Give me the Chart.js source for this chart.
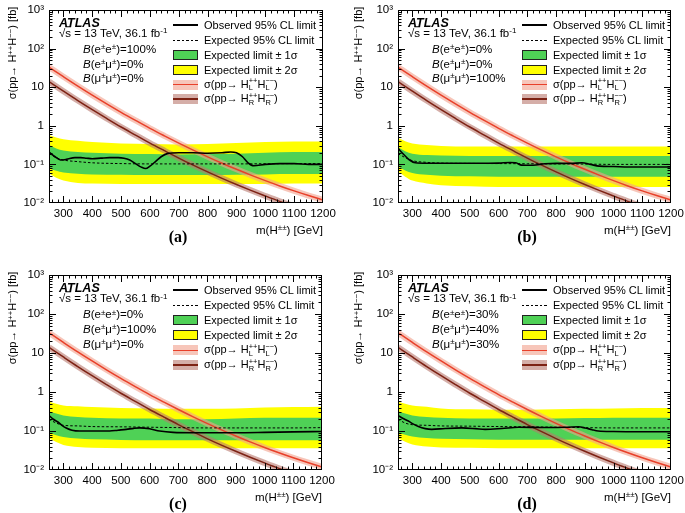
<!DOCTYPE html>
<html><head><meta charset="utf-8">
<script src="https://cdn.jsdelivr.net/npm/chart.js@4.4.0/dist/chart.umd.min.js"></script>
<style>
html,body{margin:0;padding:0;background:#fff;overflow:hidden;width:685px;height:513px;}
body{position:relative;font-family:"Liberation Sans",Arial,Helvetica,sans-serif;color:#000;}
canvas{position:absolute;}
.t{position:absolute;white-space:nowrap;line-height:1;transform:translateY(-50%);z-index:5;}
.sw{position:absolute;z-index:5;box-sizing:border-box;}
.sup{font-size:70%;position:relative;top:-0.45em;}
.ss{display:inline-block;vertical-align:middle;font-size:68%;line-height:0.95;position:relative;top:-0.05em;}
.ss span{display:block;}
.ol{text-decoration:overline;}
</style></head><body>
<script>
// ---------------- data ----------------
const xTicks = [300,400,500,600,700,800,900,1000,1100,1200];
const yTicks = [0.01,0.1,1,10,100,1000];
const yTickLabels = ['10\u207B\u00B2','10\u207B\u00B9','1','10','10\u00B2','10\u00B3'];

// theory cross sections
const xsMass = [250,300,350,400,450,500,550,600,650,700,750,800,850,900,950,1000,1050,1100,1150,1200];
const xsL = [33,18.7,10.7,6.25,3.71,2.24,1.38,0.86,0.55,0.356,0.234,0.157,0.107,0.0746,0.0527,0.0379,0.0277,0.0206,0.0156,0.012];
const xsR = [14,7.9,4.5,2.62,1.55,0.93,0.575,0.356,0.227,0.146,0.096,0.064,0.0435,0.0302,0.0213,0.0152,0.011,0.0082,0.0062,0.0047];

// expected-limit grid
const bandMass = [250,275,300,350,400,500,600,700,800,900,1000,1100,1200];

// panel (a)
const obsMassA = [250,270,290,310,340,360,380,400,430,460,490,510,530,550,570,585,600,620,640,660,700,750,800,850,880,900,920,940,960,1000,1050,1100,1150,1200];
const obsA = [0.21,0.16,0.13,0.135,0.15,0.15,0.145,0.14,0.145,0.15,0.15,0.145,0.13,0.105,0.085,0.078,0.09,0.12,0.16,0.19,0.2,0.2,0.195,0.2,0.21,0.2,0.16,0.11,0.092,0.1,0.105,0.105,0.1,0.1];
const expA = [0.19,0.15,0.13,0.118,0.11,0.105,0.103,0.103,0.103,0.103,0.104,0.105,0.105];
const yUpA = [0.58,0.5,0.45,0.41,0.38,0.35,0.34,0.33,0.34,0.36,0.38,0.39,0.39];
const gUpA = [0.32,0.26,0.23,0.21,0.2,0.19,0.185,0.18,0.185,0.19,0.2,0.21,0.21];
const gLoA = [0.08,0.068,0.062,0.057,0.055,0.054,0.053,0.053,0.053,0.054,0.055,0.056,0.056];
const yLoA = [0.058,0.045,0.038,0.033,0.032,0.031,0.031,0.031,0.031,0.031,0.031,0.032,0.032];

// panel (b)
const obsMassB = [250,270,290,310,350,400,450,500,550,600,640,660,680,720,760,800,850,890,920,950,1000,1050,1100,1200];
const obsB = [0.26,0.18,0.13,0.11,0.107,0.107,0.107,0.107,0.107,0.108,0.112,0.11,0.096,0.095,0.104,0.106,0.106,0.11,0.1,0.09,0.088,0.086,0.086,0.086];
const expB = [0.19,0.15,0.125,0.113,0.108,0.106,0.105,0.104,0.103,0.102,0.1,0.1,0.1];
const yUpB = [0.48,0.4,0.35,0.32,0.3,0.29,0.29,0.29,0.29,0.29,0.29,0.29,0.29];
const gUpB = [0.28,0.22,0.19,0.175,0.17,0.165,0.165,0.165,0.165,0.165,0.165,0.165,0.165];
const gLoB = [0.09,0.07,0.06,0.054,0.051,0.049,0.048,0.048,0.048,0.048,0.048,0.048,0.048];
const yLoB = [0.065,0.048,0.038,0.032,0.029,0.027,0.026,0.026,0.026,0.026,0.026,0.026,0.026];

// panel (c)
const obsMassC = [250,265,281,295,310,330,357,400,461,490,519,545,566,600,635,682,750,800,900,1000,1100,1200];
const obsC = [0.25,0.2,0.17,0.14,0.12,0.105,0.1,0.1,0.1,0.105,0.11,0.117,0.12,0.114,0.1,0.092,0.09,0.09,0.09,0.092,0.095,0.097];
const expC = [0.2,0.16,0.14,0.135,0.13,0.128,0.125,0.122,0.12,0.12,0.12,0.12,0.122];
const yUpC = [0.56,0.5,0.45,0.43,0.41,0.39,0.38,0.37,0.37,0.38,0.4,0.41,0.42];
const gUpC = [0.32,0.28,0.25,0.23,0.22,0.21,0.21,0.2,0.2,0.21,0.22,0.22,0.22];
const gLoC = [0.09,0.078,0.07,0.064,0.061,0.059,0.058,0.058,0.058,0.058,0.058,0.058,0.058];
const yLoC = [0.065,0.052,0.044,0.039,0.037,0.036,0.036,0.036,0.036,0.036,0.036,0.036,0.036];

// panel (d)
const obsMassD = [250,268,286,304,321,345,367,414,472,520,553,611,669,762,840,878,901,925,947,1000,1100,1200];
const obsD = [0.25,0.21,0.18,0.15,0.13,0.115,0.11,0.116,0.12,0.115,0.11,0.116,0.125,0.123,0.125,0.128,0.12,0.108,0.1,0.097,0.096,0.096];
const expD = [0.2,0.16,0.145,0.14,0.135,0.133,0.13,0.128,0.125,0.122,0.12,0.12,0.12];
const yUpD = [0.56,0.5,0.45,0.42,0.38,0.36,0.35,0.35,0.36,0.37,0.38,0.39,0.39];
const gUpD = [0.32,0.28,0.25,0.23,0.22,0.21,0.21,0.21,0.21,0.215,0.22,0.22,0.22];
const gLoD = [0.09,0.08,0.072,0.066,0.063,0.061,0.06,0.06,0.06,0.06,0.06,0.06,0.06];
const yLoD = [0.065,0.053,0.045,0.04,0.038,0.037,0.036,0.036,0.036,0.036,0.036,0.036,0.036];

// branching ratio labels
const brA = ['100%','0%','0%'];
const brB = ['0%','0%','100%'];
const brC = ['0%','100%','0%'];
const brD = ['30%','40%','30%'];
const brChannels = ['e<span class="sup">\u00B1</span>e<span class="sup">\u00B1</span>','e<span class="sup">\u00B1</span>\u03BC<span class="sup">\u00B1</span>','\u03BC<span class="sup">\u00B1</span>\u03BC<span class="sup">\u00B1</span>'];
const legendLabels = ['Observed 95% CL limit','Expected 95% CL limit','Expected limit \u00B1 1\u03C3','Expected limit \u00B1 2\u03C3',
  '\u03C3(pp\u2192 H<span class="ss"><span>++</span><span>L</span></span>H<span class="ss"><span>\u2212\u2212</span><span>L</span></span>)',
  '\u03C3(pp\u2192 H<span class="ss"><span>++</span><span>R</span></span>H<span class="ss"><span>\u2212\u2212</span><span>R</span></span>)'];

// ---------------- styles ----------------
const FONT = "'Liberation Sans', Arial, Helvetica, sans-serif";
const C_YELLOW = '#ffff00', C_GREEN = '#4fd156';
const C_RED = '#e8402a', C_REDBAND = 'rgba(242,160,140,0.6)';
const C_BROWN = '#7d2214', C_BROWNBAND = 'rgba(185,120,110,0.6)';

Chart.defaults.font.family = FONT;

const panels = [
 {tag:'(a)', L:49, R:323, T:10,  B:203, wy:49, tl:-37, br:brA, om:obsMassA, obs:obsA, exp:expA, yUp:yUpA, gUp:gUpA, gLo:gLoA, yLo:yLoA},
 {tag:'(b)', L:398,R:671, T:10,  B:203, wy:53, tl:-40, br:brB, om:obsMassB, obs:obsB, exp:expB, yUp:yUpB, gUp:gUpB, gLo:gLoB, yLo:yLoB},
 {tag:'(c)', L:49, R:322, T:275, B:470, wy:49, tl:-37, br:brC, om:obsMassC, obs:obsC, exp:expC, yUp:yUpC, gUp:gUpC, gLo:gLoC, yLo:yLoC},
 {tag:'(d)', L:398,R:671, T:275, B:470, wy:53, tl:-40, br:brD, om:obsMassD, obs:obsD, exp:expD, yUp:yUpD, gUp:gUpD, gLo:gLoD, yLo:yLoD}
];

const pts = (xs, ys) => xs.map((x,i)=>({x:x, y:ys[i]}));

const frameTicks = {
  id:'frameTicks',
  afterDatasetsDraw(chart){
    const {ctx, chartArea:a, scales:{x,y}} = chart;
    ctx.save();
    ctx.strokeStyle = '#000'; ctx.lineWidth = 1;
    ctx.beginPath();
    for (let v = 260; v <= 1190; v += 20){
      const px = Math.round(x.getPixelForValue(v)) + 0.5;
      const len = (v % 100 === 0) ? 7 : 3.5;
      ctx.moveTo(px, a.bottom); ctx.lineTo(px, a.bottom - len);
      ctx.moveTo(px, a.top); ctx.lineTo(px, a.top + len);
    }
    for (let e = -2; e <= 2; e++){
      for (let k = 1; k <= 9; k++){
        const v = k * Math.pow(10, e);
        if (e === -2 && k === 1) continue;
        const py = Math.round(y.getPixelForValue(v)) + 0.5;
        const len = (k === 1) ? 7 : 3.5;
        ctx.moveTo(a.left, py); ctx.lineTo(a.left + len, py);
        ctx.moveTo(a.right, py); ctx.lineTo(a.right - len, py);
      }
    }
    ctx.stroke();
    ctx.strokeRect(a.left + 0.5, a.top + 0.5, a.right - a.left - 1, a.bottom - a.top - 1);
    ctx.restore();
  }
};

function addText(left, cy, html, css){
  const d = document.createElement('div');
  d.className = 't';
  d.innerHTML = html;
  d.style.left = left + 'px';
  d.style.top = cy + 'px';
  if (css) Object.assign(d.style, css);
  document.body.appendChild(d);
  return d;
}
function addBox(left, top, w, h, css){
  const d = document.createElement('div');
  d.className = 'sw';
  Object.assign(d.style, {left:left+'px', top:top+'px', width:w+'px', height:h+'px'}, css||{});
  document.body.appendChild(d);
  return d;
}

panels.forEach(p => {
  const cl = p.L - p.wy, ct = p.T - 20;
  const cw = p.R + 30 - cl, ch = p.B + 24 - ct;
  const cv = document.createElement('canvas');
  cv.width = cw; cv.height = ch;
  cv.style.left = cl + 'px'; cv.style.top = ct + 'px';
  cv.style.width = cw + 'px'; cv.style.height = ch + 'px';
  document.body.appendChild(cv);

  const base = {pointRadius:0, pointHoverRadius:0, clip:0, cubicInterpolationMode:'monotone'};
  const datasets = [
    Object.assign({label:'obs', data:pts(p.om, p.obs), borderColor:'#000', borderWidth:1.6, fill:false}, base),
    Object.assign({label:'exp', data:pts(bandMass, p.exp), borderColor:'#000', borderWidth:1, borderDash:[2.5,2], fill:false}, base),
    Object.assign({label:'L', data:pts(xsMass, xsL), borderColor:C_RED, borderWidth:1.5, fill:false}, base),
    Object.assign({label:'R', data:pts(xsMass, xsR), borderColor:C_BROWN, borderWidth:1.5, fill:false}, base),
    Object.assign({label:'Lband', data:pts(xsMass, xsL), borderColor:C_REDBAND, borderWidth:6, fill:false}, base),
    Object.assign({label:'Rband', data:pts(xsMass, xsR), borderColor:C_BROWNBAND, borderWidth:6, fill:false}, base),
    Object.assign({label:'gUp', data:pts(bandMass, p.gUp), borderColor:'rgba(0,0,0,0)', borderWidth:0, backgroundColor:C_GREEN, fill:7}, base),
    Object.assign({label:'gLo', data:pts(bandMass, p.gLo), borderColor:'rgba(0,0,0,0)', borderWidth:0, fill:false}, base),
    Object.assign({label:'yUp', data:pts(bandMass, p.yUp), borderColor:'rgba(0,0,0,0)', borderWidth:0, backgroundColor:C_YELLOW, fill:9}, base),
    Object.assign({label:'yLo', data:pts(bandMass, p.yLo), borderColor:'rgba(0,0,0,0)', borderWidth:0, fill:false}, base)
  ];

  new Chart(cv.getContext('2d'), {
    type:'line',
    data:{datasets:datasets},
    options:{
      animation:false, responsive:false, events:[],
      layout:{padding:{top:20, right:30, left:0, bottom:0}},
      plugins:{legend:{display:false}, tooltip:{enabled:false}, filler:{propagate:false}},
      scales:{
        x:{type:'linear', min:250, max:1200,
           afterBuildTicks: s => { s.ticks = xTicks.map(v => ({value:v})); },
           afterFit: s => { s.height = 24; },
           grid:{display:false, drawTicks:false}, border:{display:false},
           ticks:{padding:4, color:'#000', font:{size:11.5, family:FONT}, maxRotation:0, autoSkip:false,
                  callback:(v,i) => String(xTicks[i])}},
        y:{type:'logarithmic', min:0.01, max:1000,
           afterBuildTicks: s => { s.ticks = yTicks.map(v => ({value:v})); },
           afterFit: s => { s.width = p.wy; },
           grid:{display:false, drawTicks:false}, border:{display:false},
           ticks:{padding:5, color:'#000', font:{size:11.5, family:FONT}, autoSkip:false,
                  callback:(v,i) => yTickLabels[i]}}
      }
    },
    plugins:[frameTicks]
  });

  const s = (p.B - p.T) / 193;
  // ATLAS block
  addText(p.L + 10, p.T + 13*s, 'ATLAS', {fontWeight:'bold', fontStyle:'italic', fontSize:'12.5px'});
  addText(p.L + 10, p.T + 24*s, '\u221A<span class="ol">s</span> = 13 TeV, 36.1 fb<span class="sup">-1</span>', {fontSize:'11.5px'});
  [40, 54.5, 69].forEach((dy, i) => {
    addText(p.L + 34, p.T + dy*s, '<i>B</i>(' + brChannels[i] + ')=' + p.br[i], {fontSize:'11.5px'});
  });
  // legend
  const rows = [15, 30, 44.5, 59.5, 74.5, 89];
  const sx = p.L + 124, sw = 25;
  rows.forEach((dy, i) => {
    const cy = p.T + dy*s;
    if (i === 0) addBox(sx, cy - 0.8, sw, 1.6, {background:'#000'});
    if (i === 1) addBox(sx, cy - 0.5, sw, 1, {background:'repeating-linear-gradient(90deg,#000 0 2.5px,transparent 2.5px 4.5px)'});
    if (i === 2) addBox(sx, cy - 5, sw, 10, {background:C_GREEN, border:'1px solid #222'});
    if (i === 3) addBox(sx, cy - 5, sw, 10, {background:C_YELLOW, border:'1px solid #222'});
    if (i === 4){ addBox(sx, cy - 5, sw, 10, {background:C_REDBAND}); addBox(sx, cy - 0.75, sw, 1.5, {background:C_RED}); }
    if (i === 5){ addBox(sx, cy - 5, sw, 10, {background:C_BROWNBAND}); addBox(sx, cy - 0.75, sw, 1.5, {background:C_BROWN}); }
    addText(p.L + 155, cy, legendLabels[i], {fontSize:'11px'});
  });
  // axis titles
  const xt = addText(0, p.B + 28, 'm(H<span class="sup">\u00B1\u00B1</span>) [GeV]', {fontSize:'11.5px'});
  xt.style.left = 'auto';
  xt.style.right = (685 - p.R) + 'px';
  const yt = addText(p.L + p.tl, p.T + 43*s, '\u03C3(pp\u2192 H<span class="sup">++</span>H<span class="sup">\u2212\u2212</span>) [fb]', {fontSize:'11px'});
  yt.style.transform = 'translate(-50%,-50%) rotate(-90deg)';
  const tg = addText(p.L + 129, p.B + 34, p.tag, {fontFamily:"'Liberation Serif','Times New Roman',serif", fontWeight:'bold', fontSize:'16px'});
  tg.style.transform = 'translate(-50%,-50%)';
});
</script>
</body></html>
